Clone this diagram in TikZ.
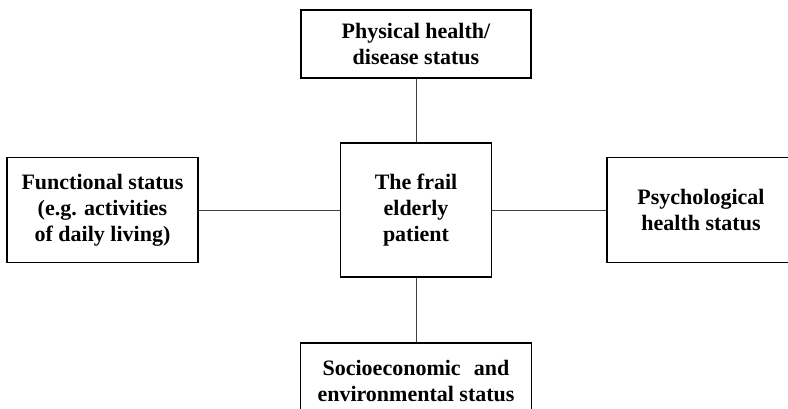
\documentclass[tikz,border=0pt]{standalone}
\usepackage{fontspec}
\setmainfont{Liberation Serif}
\begin{document}
\begin{tikzpicture}[x=1pt,y=-1pt,
    factor/.style={draw,line width=1.2pt,align=center,inner sep=0pt,
      font=\bfseries\fontsize{22}{26}\selectfont},
    link/.style={line width=1pt,black!75}]
  \clip (0,0) rectangle (788,408);
  \node [factor,minimum width=151pt,minimum height=134pt] (frail) at (416,210) {The frail\\elderly\\patient};
  \node [factor,minimum width=230pt,minimum height=68pt] (body) at (416,44) {Physical health/\\disease status};
  \node [factor,minimum width=191pt,minimum height=105pt] (func) at (102.5,210) {Functional status\\(e.g. activities\\of daily living)};
  \node [factor,minimum width=188pt,minimum height=105pt] (psych) at (701,210) {Psychological\\health status};
  \node [factor,minimum width=231pt,minimum height=76pt] (socio) at (416,381) {Socioeconomic\hspace{0.6em}and\\environmental status};
  \foreach \other in {body,func,psych,socio}
    \draw [link] (frail) -- (\other);
\end{tikzpicture}
\end{document}
